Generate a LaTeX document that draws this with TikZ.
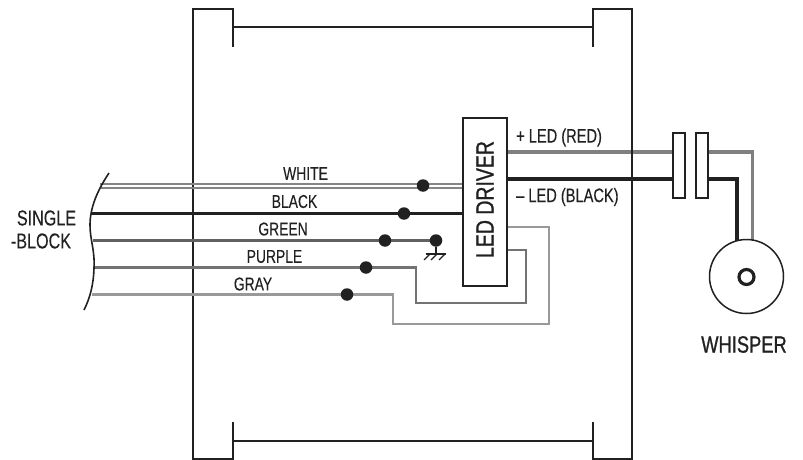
\documentclass[tikz,border=0pt]{standalone}
\usepackage{fontspec}
\setmainfont[FakeStretch=0.75,FakeBold=0.2]{Liberation Sans}
\newfontfamily\bigfam[FakeStretch=0.78,FakeBold=0.9]{Liberation Sans}
\pgfdeclarelayer{bg}
\pgfsetlayers{bg,main}
\definecolor{ink}{gray}{0.13}
\definecolor{wpurple}{gray}{0.45}
\definecolor{wgreen}{gray}{0.38}
\definecolor{wgray}{gray}{0.6}
\definecolor{wwhite}{gray}{0.52}
\definecolor{wled}{gray}{0.5}
\tikzset{
  frame/.style={draw=ink,line width=2.1pt,line cap=butt,line join=miter},
  wire/.style={line width=#1,line join=miter},
  dot/.style={circle,fill=ink,inner sep=0pt,minimum size=12.5pt},
  lbl/.style={font=\fontsize{18.5}{20}\selectfont,text=ink,inner sep=0pt},
  lblb/.style={font=\bigfam\fontsize{23.5}{25}\selectfont,text=ink,inner sep=0pt},
  block/.style={draw=ink,line width=1.9pt,fill=white,inner sep=0pt},
}
\begin{document}
\begin{tikzpicture}[x=1pt,y=-1pt]
\useasboundingbox (0,0) rectangle (803,460);
% nodes
\node[block,minimum width=44pt,minimum height=168pt] (drv) at (485,202) {};
\node[block,minimum width=11.5pt,minimum height=65pt] (c1) at (678.8,165.5) {};
\node[block,minimum width=12pt,minimum height=65pt] (c2) at (702,165.5) {};
\node[draw=ink,line width=1.5pt,circle,minimum size=74pt,inner sep=0pt] (spk) at (746.5,276.5) {};
\node[draw=ink,line width=3.2pt,circle,minimum size=15pt,inner sep=0pt] (ring) at (746.5,277) {};
\node[lblb,font=\bigfam\fontsize{25}{27}\selectfont,rotate=90] (drvt) at (485,199.5) {LED DRIVER};
\node[dot] (dw) at (423,185.5) {};
\node[dot] (db) at (404,213.5) {};
\node[dot] (dgn) at (385,240.5) {};
\node[dot] (dp) at (366,267.5) {};
\node[dot] (dg) at (347,294.5) {};
\node[dot] (dgnd) at (436,240.5) {};
\coordinate (sw1) at (100,184);
\coordinate (sw2) at (101,188);
\coordinate (sb) at (91,213.5);
\coordinate (sgn) at (93,240.5);
\coordinate (sp) at (95,267.5);
\coordinate (sg) at (92,294.5);
\coordinate (gnd) at (436,254);
\begin{pgfonlayer}{bg}
% frame
\draw[frame] (193,460) -- (193,9) -- (233,9) -- (233,47);
\draw[frame] (233,27) -- (593,27);
\draw[frame] (593,47) -- (593,9) -- (632,9) -- (632,459) -- (593,459) -- (593,422);
\draw[frame] (593,441) -- (233,441);
\draw[frame] (233,422) -- (233,459) -- (193,459);
% wires
\draw[wire=1.6pt,draw=wwhite] (sw1) -- (drv.west |- sw1);
\draw[wire=1.6pt,draw=wwhite] (sw2) -- (drv.west |- sw2);
\draw[wire=3.6pt,draw=ink] (sb) -- (db) -- (drv.west |- sb);
\draw[wire=3.2pt,draw=wgreen] (sgn) -- (dgn) -- (dgnd);
\draw[wire=2.8pt,draw=wpurple] (sp) -- (dp) -- (416,267.5) -- (416,303) -- (526,303) -- (526,250) -- (drv.east |- 0,250);
\draw[wire=2.8pt,draw=wgray] (sg) -- (dg) -- (393,294.5) -- (393,324) -- (549,324) -- (549,227) -- (drv.east |- 0,227);
\draw[wire=3.4pt,draw=wled] (drv.east |- 0,152) -- (c1.west |- 0,152);
\draw[wire=3.4pt,draw=ink] (drv.east |- 0,179) -- (c1.west |- 0,179);
\draw[wire=3.4pt,draw=wled] (c2.east |- 0,152) -- (752.5,152) -- (752.5,240);
\draw[wire=3.4pt,draw=ink] (c2.east |- 0,179) -- (737,179) -- (737,241);
% redraw outer frame line over the LED wires
\draw[frame] (632,140) -- (632,190);
% ground
\draw[draw=ink,line width=1.6pt] (dgnd) -- (gnd);
\draw[draw=ink,line width=1.4pt] (425.5,254) -- (445.5,254);
\draw[draw=ink,line width=1.3pt] (430,254) -- (424,260) (437,254) -- (431,260) (445,254) -- (439,260);
% break curve
\draw[draw=ink,line width=1.6pt] (109,173) .. controls (97,191) and (90,208) .. (90,225) .. controls (90,240) and (95,250) .. (94,268) .. controls (93.5,285) and (90,298) .. (84,310);
\end{pgfonlayer}
% labels
\node[lbl] at (305.5,173.5) {WHITE};
\node[lbl] at (294.5,201.5) {BLACK};
\node[lbl] at (283,229) {GREEN};
\node[lbl] at (274.5,256.5) {PURPLE};
\node[lbl] at (253,284) {GRAY};
\node[lbl,font=\fontsize{19.5}{21}\selectfont,anchor=west] at (516,137.5) {+ LED (RED)};
\node[lbl,font=\fontsize{19.5}{21}\selectfont,anchor=west] at (516,197) {– LED (BLACK)};
\node[lbl,font=\fontsize{21.5}{23}\selectfont] at (46.5,218) {SINGLE};
\node[lbl,font=\fontsize{21.5}{23}\selectfont] at (41,241) {-BLOCK};
\node[lblb] at (744,344.5) {WHISPER};
\end{tikzpicture}
\end{document}
